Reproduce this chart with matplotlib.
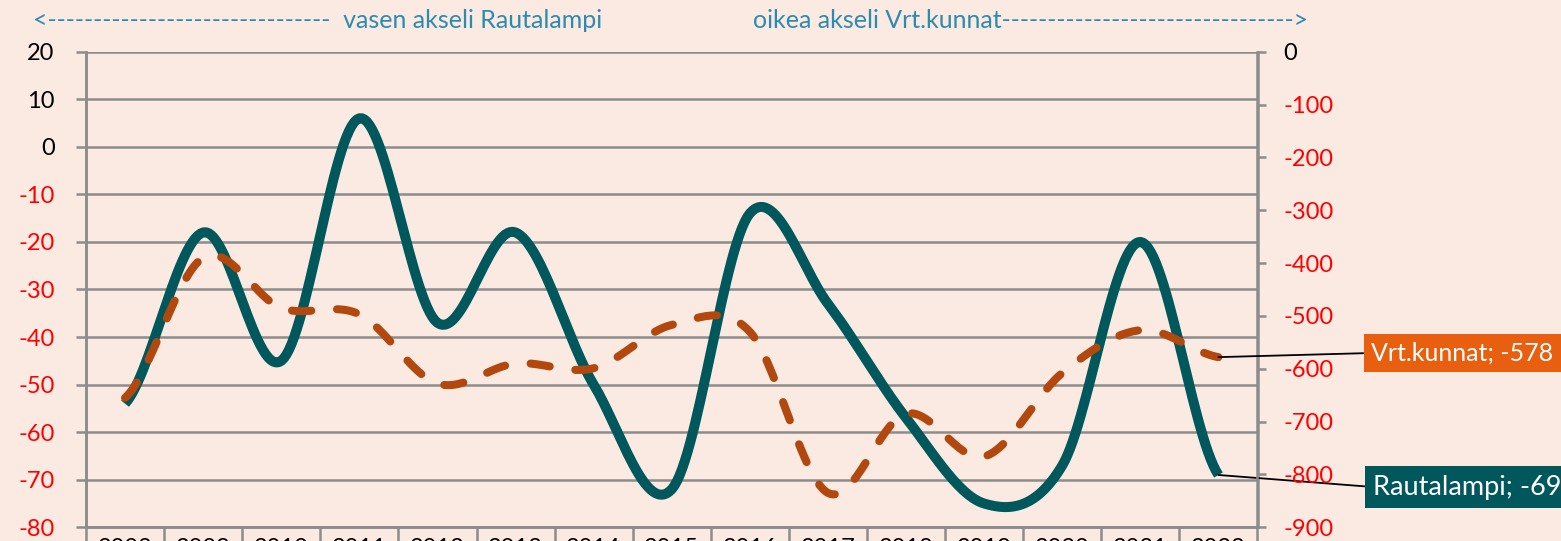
import numpy as np
import matplotlib.pyplot as plt

plt.rcParams['font.family'] = ['Lato', 'DejaVu Sans']
plt.rcParams['axes.unicode_minus'] = False

# data
years = ['2008', '2009', '2010', '2011', '2012', '2013', '2014', '2015',
         '2016', '2017', '2018', '2019', '2020', '2021', '2022']
rautalampi = [-54, -18, -45, 6, -37, -18, -50, -72, -14, -33, -57, -75, -67, -20, -69]
vrt_kunnat = [-655, -390, -485, -497, -628, -590, -599, -517, -530, -835,
              -685, -766, -608, -527, -578]

bg = '#FAEAE2'
grid_c = '#8C8C8C'
teal = '#00585C'
rust = '#B3480E'
box_orange = '#E8600F'
blue_txt = '#2E8BB0'


def smooth(y, n=30):
    # Excel style smoothed line (Catmull-Rom through the points)
    y = np.asarray(y, dtype=float)
    p = np.concatenate([[y[0]], y, [y[-1]]])
    xs, ys = [], []
    for i in range(len(y) - 1):
        p0, p1, p2, p3 = p[i], p[i + 1], p[i + 2], p[i + 3]
        m1 = (p2 - p0) / 2
        m2 = (p3 - p1) / 2
        t = np.linspace(0, 1, n, endpoint=False)
        h00 = 2 * t**3 - 3 * t**2 + 1
        h10 = t**3 - 2 * t**2 + t
        h01 = -2 * t**3 + 3 * t**2
        h11 = t**3 - t**2
        xs.append(i + t)
        ys.append(h00 * p1 + h10 * m1 + h01 * p2 + h11 * m2)
    xs.append([len(y) - 1])
    ys.append([y[-1]])
    return np.concatenate(xs), np.concatenate(ys)


W, H = 1561, 541
fig = plt.figure(figsize=(W / 100, H / 100), dpi=100, facecolor=bg)
ax = fig.add_axes([86 / W, 1 - 527.3 / H, (1257.5 - 86) / W, (527.3 - 51.7) / H])
ax.set_facecolor(bg)
ax2 = ax.twinx()

x = np.arange(len(years))

xs, ys = smooth(rautalampi)
ax.plot(xs, ys, color=teal, lw=7.2, solid_capstyle='butt', zorder=3)
ax.set_ylim(-80, 20)
ax.set_xlim(-0.5, len(years) - 0.5)
ax.set_yticks(np.arange(-80, 21, 10))
ax.grid(axis='y', color=grid_c, lw=1.8, zorder=0)
ax.set_axisbelow(True)

xs2, ys2 = smooth(vrt_kunnat)
ax2.plot(xs2, ys2, color=rust, lw=5.8, dashes=(2.4, 3.2),
         dash_capstyle='round', zorder=4)
ax2.set_ylim(-900, 0)
ax2.set_yticks(np.arange(-900, 1, 100))

for a in (ax, ax2):
    for s in a.spines.values():
        s.set_color(grid_c)
        s.set_linewidth(1.8)
ax.spines['top'].set_visible(False)
ax2.spines['top'].set_visible(False)

ax.tick_params(axis='y', direction='out', length=7.5, width=1.8, color=grid_c,
               pad=15, labelsize=17)
ax2.tick_params(axis='y', direction='out', length=6.5, width=1.8, color=grid_c,
                pad=12, labelsize=17)
for lab in ax2.get_yticklabels():
    lab.set_horizontalalignment('left')

# category boundaries below the axis, years centred
ax.set_xticks(x)
ax.set_xticklabels(years)
ax.set_xticks(np.arange(-0.5, len(years), 1), minor=True)
ax.tick_params(axis='x', which='major', length=0, pad=8, labelsize=17)
ax.tick_params(axis='x', which='minor', length=20, width=1.8, color=grid_c)

for lab, v in zip(ax.get_yticklabels(), ax.get_yticks()):
    lab.set_color('#FF0000' if v < 0 else 'black')
for lab, v in zip(ax2.get_yticklabels(), ax2.get_yticks()):
    lab.set_color('#FF0000' if v < 0 else 'black')

# header texts
fig.text(33 / W, 1 - 21 / H, '<' + '-' * 31 + '  vasen akseli Rautalampi',
         color=blue_txt, fontsize=18, va='center', ha='left')
fig.text(753 / W, 1 - 21 / H, 'oikea akseli Vrt.kunnat' + '-' * 32 + '>',
         color=blue_txt, fontsize=18, va='center', ha='left')

# end labels
ax2.annotate('Vrt.kunnat; -578', xy=(x[-1], vrt_kunnat[-1]),
             xytext=(1371 / W, 1 - 353 / H), textcoords='figure fraction',
             color='white', fontsize=18, va='center', ha='left',
             bbox=dict(boxstyle='square,pad=0.3', fc=box_orange, ec='none'),
             arrowprops=dict(arrowstyle='-', color='black', lw=1.3,
                             relpos=(0, 0.5), shrinkA=0, shrinkB=0),
             annotation_clip=False, zorder=6)
ax.annotate('Rautalampi; -69', xy=(x[-1], rautalampi[-1]),
            xytext=(1373 / W, 1 - 487 / H), textcoords='figure fraction',
            color='white', fontsize=19.5, va='center', ha='left',
            bbox=dict(boxstyle='square,pad=0.3', fc=teal, ec='none'),
            arrowprops=dict(arrowstyle='-', color='black', lw=1.3,
                            relpos=(0, 0.5), shrinkA=0, shrinkB=0),
            annotation_clip=False, zorder=6)

fig.savefig('out.png', dpi=100, facecolor=bg)
